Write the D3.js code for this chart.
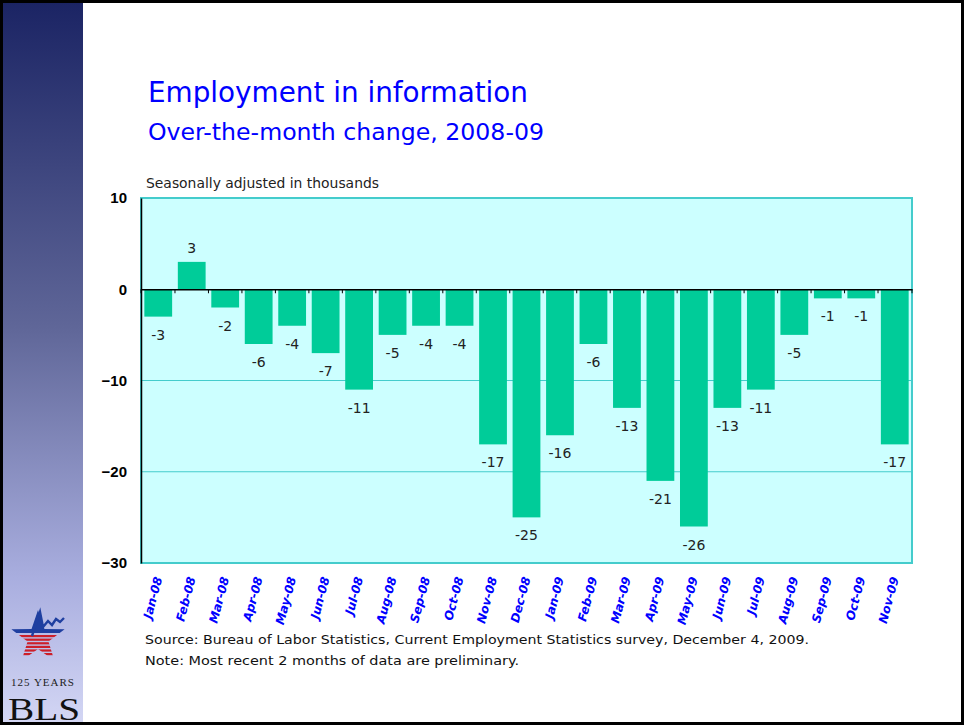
<!DOCTYPE html>
<html>
<head>
<meta charset="utf-8">
<script src="https://cdn.jsdelivr.net/npm/d3@7"></script>
<style>
  body { margin: 0; background: #fff; }
  svg { display: block; }
</style>
</head>
<body>
<div class="chart"></div>
<script>
// data
var months = ["Jan-08", "Feb-08", "Mar-08", "Apr-08", "May-08", "Jun-08", "Jul-08", "Aug-08",
  "Sep-08", "Oct-08", "Nov-08", "Dec-08", "Jan-09", "Feb-09", "Mar-09", "Apr-09", "May-09",
  "Jun-09", "Jul-09", "Aug-09", "Sep-09", "Oct-09", "Nov-09"];
var changes = [-3, 3, -2, -6, -4, -7, -11, -5, -4, -4, -17, -25, -16, -6, -13, -21, -26,
  -13, -11, -5, -1, -1, -17];
var yTicks = [10, 0, -10, -20, -30];

// svg container
var svgWidth = 965;
var svgHeight = 727;

// plot area
var margin = { top: 198, right: 53, bottom: 164, left: 141 };
var width = svgWidth - margin.left - margin.right;
var height = svgHeight - margin.top - margin.bottom;

var svg = d3.select(".chart")
  .append("svg")
  .attr("width", svgWidth)
  .attr("height", svgHeight);

// left gradient panel
var defs = svg.append("defs");
var grad = defs.append("linearGradient")
  .attr("id", "side")
  .attr("x1", 0).attr("y1", 0).attr("x2", 0).attr("y2", 1);
grad.append("stop").attr("offset", "0%").attr("stop-color", "#1b2464");
grad.append("stop").attr("offset", "45%").attr("stop-color", "#5f6698");
grad.append("stop").attr("offset", "80%").attr("stop-color", "#a9aedf");
grad.append("stop").attr("offset", "100%").attr("stop-color", "#d3d6f4");

svg.append("rect")
  .attr("x", 2).attr("y", 2)
  .attr("width", 81).attr("height", 721)
  .attr("fill", "url(#side)");

// BLS logo (rough)
var cx = 38, cy = 638;
var starPts = [];
for (var i = 0; i < 10; i++) {
  var ang = -Math.PI / 2 + i * Math.PI / 5;
  var r = i % 2 === 0 ? 28 : 11;
  starPts.push([cx + r * Math.cos(ang), cy + r * Math.sin(ang)]);
}
defs.append("clipPath").attr("id", "starClip")
  .append("polygon").attr("points", starPts.map(p => p.join(",")).join(" "));
var starG = svg.append("g").attr("clip-path", "url(#starClip)");
starG.append("rect").attr("x", 5).attr("y", 605).attr("width", 70).attr("height", 28).attr("fill", "#1f3fa0");
[0, 1, 2, 3, 4, 5].forEach(function(k) {
  starG.append("rect").attr("x", 5).attr("y", 635 + k * 3.6)
    .attr("width", 70).attr("height", 2.2).attr("fill", "#cc1f2a");
});
svg.append("path")
  .attr("d", "M32,636 L40,612 L43,627 L48,621 L52,625 L56,619 L60,622 L64,618")
  .attr("fill", "none").attr("stroke", "#1f3fa0").attr("stroke-width", 2.4);
svg.append("text")
  .attr("x", 43).attr("y", 686)
  .attr("text-anchor", "middle")
  .style("font-family", "Liberation Serif, serif")
  .style("font-size", "11px")
  .style("letter-spacing", "1px")
  .attr("fill", "#222")
  .text("125 YEARS");
svg.append("text")
  .attr("x", 44).attr("y", 720)
  .attr("text-anchor", "middle")
  .style("font-family", "Liberation Serif, serif")
  .style("font-size", "32px")
  .attr("textLength", 72)
  .attr("lengthAdjust", "spacingAndGlyphs")
  .attr("fill", "#111")
  .text("BLS");

// outer frame
svg.append("rect")
  .attr("x", 1.5).attr("y", 1.5)
  .attr("width", 961).attr("height", 722)
  .attr("fill", "none")
  .attr("stroke", "#000")
  .attr("stroke-width", 3);

// titles
svg.append("text")
  .attr("x", 148).attr("y", 102)
  .attr("fill", "#0000ff")
  .style("font-family", "DejaVu Sans")
  .style("font-size", "29px")
  .attr("textLength", 380)
  .attr("lengthAdjust", "spacingAndGlyphs")
  .text("Employment in information");
svg.append("text")
  .attr("x", 148).attr("y", 140)
  .attr("fill", "#0000ff")
  .style("font-family", "DejaVu Sans")
  .style("font-size", "23px")
  .attr("textLength", 396)
  .attr("lengthAdjust", "spacingAndGlyphs")
  .text("Over-the-month change, 2008-09");

svg.append("text")
  .attr("x", 146).attr("y", 188)
  .attr("fill", "#222")
  .style("font-family", "DejaVu Sans")
  .style("font-size", "14px")
  .attr("textLength", 233)
  .attr("lengthAdjust", "spacingAndGlyphs")
  .text("Seasonally adjusted in thousands");

var chartGroup = svg.append("g")
  .attr("transform", `translate(${margin.left}, ${margin.top})`);

// scales
var xBandScale = d3.scaleBand()
  .domain(months)
  .range([0, width])
  .paddingInner(0.17)
  .paddingOuter(0.1);

var yLinearScale = d3.scaleLinear()
  .domain([-30, 10])
  .range([height, 0]);

// plot background
chartGroup.append("rect")
  .attr("width", width)
  .attr("height", height)
  .attr("fill", "#ccffff");

// gridlines
chartGroup.selectAll(".grid")
  .data([-10, -20])
  .enter()
  .append("line")
  .attr("x1", 0).attr("x2", width)
  .attr("y1", d => yLinearScale(d)).attr("y2", d => yLinearScale(d))
  .attr("stroke", "#44cccc")
  .attr("stroke-width", 1);

// frame of plot
chartGroup.append("rect")
  .attr("width", width)
  .attr("height", height)
  .attr("fill", "none")
  .attr("stroke", "#44cccc")
  .attr("stroke-width", 2);

// bars
chartGroup.selectAll(".bar")
  .data(changes)
  .enter()
  .append("rect")
  .attr("x", (d, i) => xBandScale(months[i]))
  .attr("y", d => yLinearScale(Math.max(0, d)))
  .attr("width", xBandScale.bandwidth())
  .attr("height", d => Math.abs(yLinearScale(d) - yLinearScale(0)))
  .attr("fill", "#00cc99");

// value labels
chartGroup.selectAll(".val")
  .data(changes)
  .enter()
  .append("text")
  .attr("x", (d, i) => xBandScale(months[i]) + xBandScale.bandwidth() / 2)
  .attr("y", d => d >= 0 ? yLinearScale(d) - 9 : yLinearScale(d) + 23)
  .attr("text-anchor", "middle")
  .attr("fill", "#222")
  .style("font-family", "DejaVu Sans")
  .style("font-size", "14px")
  .text(d => d);

// zero line with ticks between bars
var step = xBandScale.step();
var gap = step - xBandScale.bandwidth();
var zeroAxis = d3.axisBottom(xBandScale).tickSize(0).tickFormat("");
chartGroup.append("g")
  .attr("transform", `translate(0, ${yLinearScale(0)})`)
  .call(zeroAxis)
  .call(g => g.select(".domain").attr("stroke", "#000").attr("stroke-width", 1.5));
function tickX(i) {
  if (i === 0) return 0;
  if (i === months.length) return width;
  return xBandScale(months[i - 1]) + xBandScale.bandwidth() + gap / 2;
}
chartGroup.selectAll(".ztick")
  .data(d3.range(months.length + 1))
  .enter()
  .append("line")
  .attr("x1", tickX)
  .attr("x2", tickX)
  .attr("y1", yLinearScale(0))
  .attr("y2", yLinearScale(0) + 4)
  .attr("stroke", "#000")
  .attr("stroke-width", 1);

// left axis
var leftAxis = d3.axisLeft(yLinearScale).tickValues(yTicks).tickSize(0).tickPadding(14);
chartGroup.append("g")
  .call(leftAxis)
  .call(g => g.select(".domain").attr("stroke", "#000").attr("stroke-width", 1.5))
  .call(g => g.selectAll("text")
    .attr("fill", "#000")
    .style("font-family", "Liberation Sans, Arial")
    .style("font-weight", "bold")
    .style("font-size", "15px"));

// x labels (rotated)
var bottomAxis = d3.axisBottom(xBandScale).tickSize(0).tickPadding(0);
chartGroup.append("g")
  .attr("transform", `translate(0, ${height})`)
  .call(bottomAxis)
  .call(g => g.select(".domain").remove())
  .call(g => g.selectAll("text")
    .attr("fill", "#0000ff")
    .style("font-family", "DejaVu Sans")
    .style("font-weight", "bold")
    .style("font-style", "italic")
    .style("font-size", "12px")
    .attr("text-anchor", "end")
    .attr("dy", "0.35em")
    .attr("transform", "translate(0, 14) rotate(-75)"));

// footnotes
svg.append("text")
  .attr("x", 145).attr("y", 644)
  .attr("fill", "#111")
  .style("font-family", "DejaVu Sans")
  .style("font-size", "13px")
  .attr("textLength", 664)
  .attr("lengthAdjust", "spacingAndGlyphs")
  .text("Source:  Bureau of Labor Statistics, Current Employment Statistics survey,  December 4, 2009.");
svg.append("text")
  .attr("x", 145).attr("y", 665)
  .attr("fill", "#111")
  .style("font-family", "DejaVu Sans")
  .style("font-size", "13px")
  .attr("textLength", 374)
  .attr("lengthAdjust", "spacingAndGlyphs")
  .text("Note:  Most recent 2 months of data are preliminary.");
</script>
</body>
</html>
